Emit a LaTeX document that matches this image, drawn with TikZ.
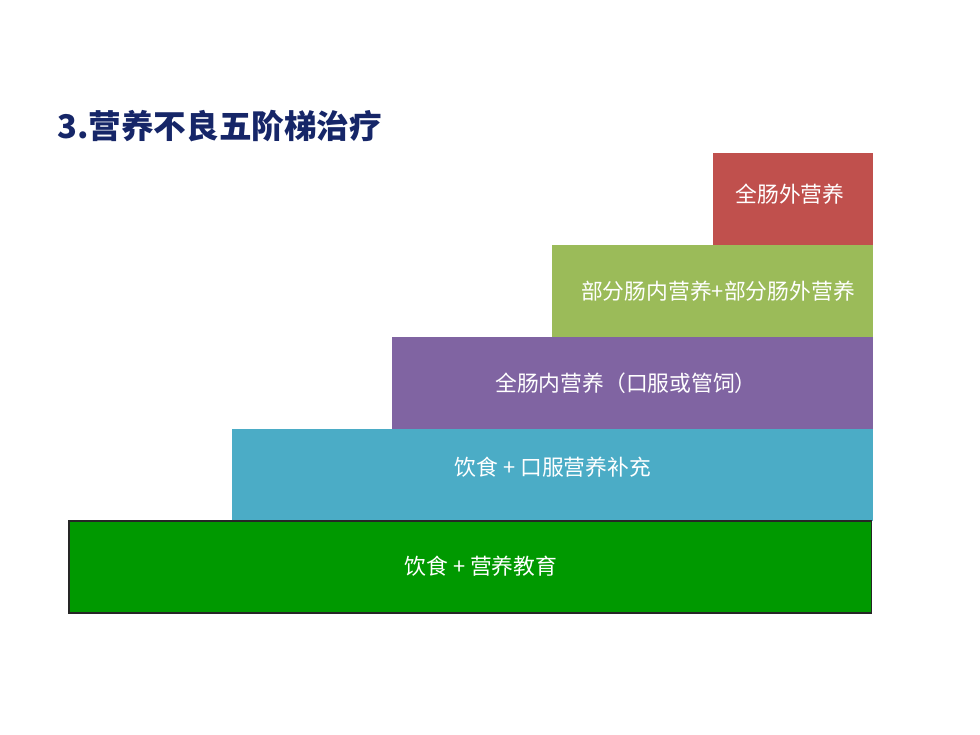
\documentclass[tikz,border=0pt]{standalone}
\usepackage{fontspec}
\setmainfont{Noto Sans CJK SC}
\usetikzlibrary{positioning}
\definecolor{titleblue}{RGB}{22,38,104}
\definecolor{stepred}{RGB}{192,80,77}
\definecolor{stepolive}{RGB}{155,187,89}
\definecolor{steppurple}{RGB}{128,100,162}
\definecolor{stepteal}{RGB}{75,172,198}
\definecolor{stepgreen}{RGB}{0,153,0}
\begin{document}
\begin{tikzpicture}[x=0.025cm, y=-0.025cm,
    stair/.style={anchor=north west, inner sep=0pt, outer sep=0pt, minimum height=2.3cm},
    steptext/.style={text=white, inner sep=0pt, font=\fontsize{15.5}{18}\selectfont}
]
    \useasboundingbox (0,0) rectangle (980,735);

    \node[font=\fontsize{23.2}{27}\selectfont\bfseries, text=titleblue, anchor=west, inner sep=0pt]
        (title) at (57,126) {3.营养不良五阶梯治疗};

    % five steps, top to bottom
    \node[stair, fill=stepred, minimum width=4cm] (s5) at (713,153) {};
    \node[stair, fill=stepolive, minimum width=8.025cm] (s4) at (552,245) {};
    \node[stair, fill=steppurple, minimum width=12.025cm] (s3) at (392,337) {};
    \node[stair, fill=stepteal, minimum width=16.025cm] (s2) at (232,429) {};
    \node[stair, fill=stepgreen, draw=black!85, line width=0.9pt, minimum width=20.05cm] (s1) at (69,521) {};

    % labels
    \node[steptext] (t5) at (790,194) {全肠外营养};
    \node[steptext] (t4) at (718,291) {部分肠内营养+部分肠外营养};
    \node[steptext] (t3) at (626,383) {全肠内营养（口服或管饲）};
    \node[steptext] (t2) at (553,467) {饮食 + 口服营养补充};
    \node[steptext] (t1) at (481,566) {饮食 + 营养教育};
\end{tikzpicture}
\end{document}
